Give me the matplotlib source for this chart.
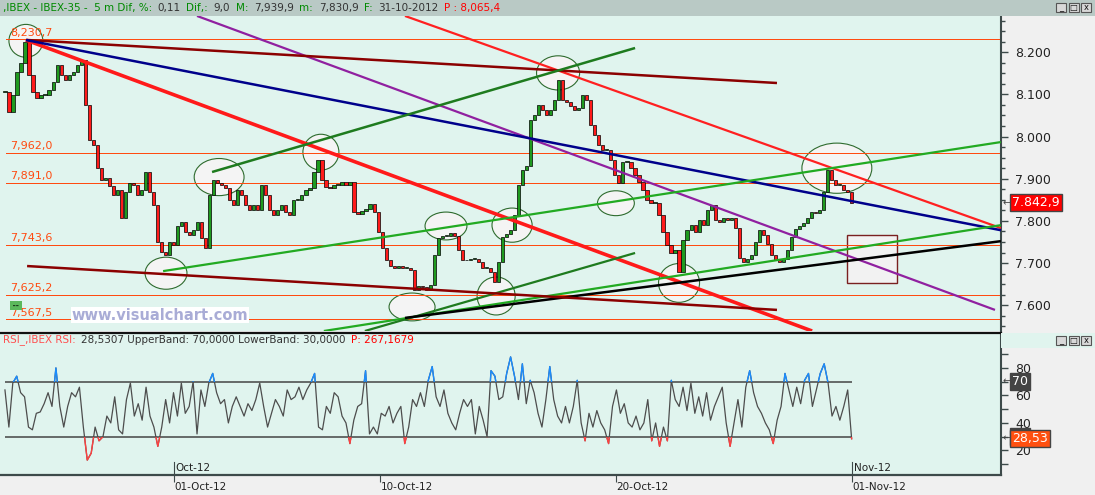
import matplotlib

matplotlib.use("Agg")

import matplotlib.pyplot as plt
import numpy as np
from matplotlib.patches import Ellipse, Rectangle
from matplotlib.ticker import MultipleLocator
from matplotlib.transforms import blended_transform_factory
from matplotlib.offsetbox import TextArea, HPacker, AnchoredOffsetbox

# ---- datos (IBEX-35, 5 min) -------------------------------------------
# tiempo en dias de mercado respecto al 01-Oct-12
t_start, t_end = -5.73, 22.97

closes = [
    8106, 8058, 8099, 8153, 8174, 8224, 8146, 8106, 8092, 8099,
    8099, 8110, 8129, 8170, 8146, 8134, 8146, 8153, 8170, 8182,
    8075, 7992, 7980, 7926, 7897, 7902, 7883, 7862, 7873, 7807,
    7869, 7890, 7885, 7862, 7873, 7916, 7869, 7838, 7750, 7726,
    7719, 7750, 7743, 7788, 7798, 7774, 7767, 7779, 7798, 7760,
    7736, 7862, 7897, 7890, 7885, 7878, 7850, 7838, 7873, 7862,
    7838, 7826, 7838, 7826, 7885, 7862, 7826, 7814, 7826, 7838,
    7821, 7814, 7850, 7850, 7862, 7873, 7878, 7916, 7945, 7897,
    7880, 7878, 7885, 7885, 7892, 7885, 7892, 7821, 7817, 7824,
    7828, 7840, 7821, 7774, 7736, 7707, 7693, 7689, 7693, 7689,
    7689, 7684, 7636, 7646, 7643, 7636, 7648, 7719, 7760, 7764,
    7764, 7771, 7764, 7731, 7707, 7707, 7710, 7710, 7703, 7689,
    7689, 7679, 7655, 7703, 7762, 7769, 7779, 7814, 7885, 7921,
    7930, 8039, 8051, 8075, 8063, 8051, 8063, 8087, 8134, 8087,
    8082, 8073, 8063, 8068, 8099, 8087, 8027, 8004, 7980, 7968,
    7968, 7945, 7909, 7890, 7940, 7940, 7926, 7909, 7892, 7873,
    7850, 7843, 7843, 7814, 7774, 7743, 7724, 7731, 7679, 7755,
    7779, 7790, 7774, 7802, 7790, 7826, 7838, 7802, 7798, 7807,
    7802, 7807, 7783, 7712, 7703, 7710, 7719, 7750, 7779, 7767,
    7745, 7719, 7707, 7703, 7710, 7731, 7762, 7781, 7788, 7795,
    7807, 7821, 7819, 7826, 7869, 7921, 7897, 7885, 7885, 7873,
    7869, 7842.9,
]

rsi = [
    64, 37, 69, 74, 62, 59, 37, 35, 47, 48, 54, 62, 52, 80, 52, 37, 52, 62,
    59, 66, 37, 13, 18, 37, 27, 30, 45, 40, 59, 35, 32, 57, 69, 45, 54, 42,
    66, 45, 37, 23, 37, 57, 40, 62, 45, 69, 47, 52, 70, 32, 64, 52, 69, 76,
    62, 54, 57, 40, 52, 59, 52, 45, 54, 49, 57, 69, 52, 37, 47, 57, 52, 45,
    64, 57, 59, 66, 57, 64, 69, 76, 37, 35, 52, 47, 62, 59, 45, 40, 25, 42,
    52, 54, 78, 32, 37, 32, 47, 45, 52, 40, 47, 52, 25, 37, 57, 52, 62,
    52, 71, 81, 59, 52, 64, 47, 40, 35, 47, 57, 52, 57, 32, 52, 42, 30, 78,
    74, 57, 59, 76, 88, 74, 57, 83, 54, 71, 62, 47, 37, 57, 81, 57, 45, 40,
    52, 40, 52, 71, 40, 27, 47, 37, 49, 40, 35, 25, 52, 64, 47, 54, 40, 37,
    45, 35, 40, 57, 27, 40, 23, 37, 27, 71, 57, 52, 66, 49, 69, 47, 59, 45,
    62, 42, 52, 59, 66, 40, 23, 40, 57, 37, 66, 78, 62, 52, 47, 40, 35, 25,
    42, 52, 76, 64, 52, 66, 54, 71, 76, 52, 64, 76, 83, 69, 45, 52, 42, 52,
    64, 28.53,
]

levels = [8230.7, 7962.0, 7891.0, 7743.6, 7625.2, 7567.5]

# lineas de tendencia: (t0, p0, t1, p1)
trend_lines = [
    (-5.02, 8229, 21.63, 7539),   # roja gruesa
    (7.83, 8286, 28.03, 7783),    # roja superior
    (0.78, 8286, 27.83, 7589),    # violeta
    (-4.98, 8229, 20.44, 8127),   # granate superior
    (-5.02, 8229, 28.03, 7778),   # azul
    (1.29, 7916, 15.63, 8210),    # verde oscuro sup.
    (-0.37, 7681, 28.03, 7987),   # verde medio
    (5.08, 7539, 28.03, 7790),    # verde inferior
    (6.47, 7539, 15.63, 7724),    # verde oscuro inf.
    (7.83, 7570, 28.03, 7752),    # negra
    (-4.98, 7693, 20.44, 7589),   # granate inferior
]
line_colors = ["#ff1a1a", "#ff2020", "#9020a0", "#8b0000", "#00008b",
               "#1e7b1e", "#22aa22", "#22aa22", "#1e7b1e", "#000000", "#8b0000"]
line_widths = [2.6, 1.6, 1.6, 1.8, 1.8, 1.8, 1.6, 1.6, 1.6, 1.8, 1.8]

# zonas marcadas: (t, precio, ancho_dias, alto_puntos)
ellipses = [
    (-5.02, 8227, 1.15, 78), (1.53, 7904, 1.69, 88), (4.98, 7963, 1.22, 85),
    (-0.27, 7676, 1.42, 76), (8.07, 7596, 1.56, 66), (9.22, 7788, 1.42, 66),
    (11.46, 7790, 1.36, 81), (10.92, 7622, 1.29, 90), (13.02, 8151, 1.46, 81),
    (14.98, 7842, 1.25, 59), (17.12, 7653, 1.39, 92), (22.47, 7925, 2.37, 119),
]
box_zone = (22.81, 7653, 24.51, 7767)

day_ticks = [0, 7, 15, 23]
day_labels = ["01-Oct-12", "10-Oct-12", "20-Oct-12", "01-Nov-12"]
month_ticks = [0, 23]
month_labels = ["Oct-12", "Nov-12"]

# ---- figura ------------------------------------------------------------
W, H = 1095, 495
fig = plt.figure(figsize=(W / 100, H / 100), dpi=100)
fig.patch.set_facecolor("#f0f0f0")
BG = "#e0f4ee"
AXC = "#3d4a4a"


def fy(py):
    return 1 - py / H


xlim = (-5.898, 28.034)
ax = fig.add_axes([0, fy(331), 1001 / W, (331 - 16) / H])
ax.set_facecolor(BG)
ax.set_xlim(*xlim)
ax.set_ylim(7539.0, 8285.9)

axr = fig.add_axes([0, fy(475), 1001 / W, (475 - 333) / H])
axr.set_facecolor(BG)
axr.set_xlim(*xlim)
axr.set_ylim(2.15, 105.4)

# franjas de fondo
fig.add_artist(Rectangle((0, fy(16)), 1, 16 / H, transform=fig.transFigure,
                         fc="#b9c9c5", ec="none", zorder=0.5))
fig.add_artist(Rectangle((1001 / W, fy(348)), 1 - 1001 / W, 15 / H,
                         transform=fig.transFigure, fc=BG, ec="none", zorder=1))

# ---- velas -------------------------------------------------------------
c = np.array(closes, dtype=float)
o = np.concatenate([[c[0]], c[:-1]])
x = np.linspace(t_start, t_end, len(c))
step = x[1] - x[0]
up = c >= o
ax.bar(x[up], np.maximum(c - o, 1.5)[up], bottom=o[up], width=step * 0.8,
       color="#1f9a1f", edgecolor="black", linewidth=0.5, zorder=3)
ax.bar(x[~up], (c - o)[~up], bottom=o[~up], width=step * 0.8,
       color="#ff1a1a", edgecolor="black", linewidth=0.5, zorder=3)

# ---- niveles horizontales ---------------------------------------------
bl = blended_transform_factory(ax.transAxes, ax.transData)
for lv in levels:
    ax.axhline(lv, xmin=6 / 1001, color="#ff4a10", lw=0.7, zorder=2,
               antialiased=False)
    lab = f"{lv:,.1f}".replace(".", ",")
    ax.text(10 / 1001, lv + 3, lab, transform=bl, color="#ff4a10",
            fontsize=8, va="bottom", ha="left", zorder=2)

# ---- elipses y rectangulo ---------------------------------------------
for (t, p, w, h) in ellipses:
    ax.add_patch(Ellipse((t, p), w, h, fc="#f4f4f4", ec="#2e6b2e",
                         lw=0.8, zorder=1.5))
bx0, by0, bx1, by1 = box_zone
ax.add_patch(Rectangle((bx0, by0), bx1 - bx0, by1 - by0, fc="#f2f2f2",
                       ec="#7a2020", lw=1.0, zorder=1.5))

# ---- lineas de tendencia ----------------------------------------------
for (t0, p0, t1, p1), col, lw in zip(trend_lines, line_colors, line_widths):
    ax.plot([t0, t1], [p0, p1], color=col, lw=lw, zorder=4,
            solid_capstyle="butt")

# ---- eje de precios ----------------------------------------------------
for s in ["top", "left", "bottom"]:
    ax.spines[s].set_visible(False)
ax.spines["right"].set_color(AXC)
ax.spines["right"].set_linewidth(1.5)
ax.yaxis.tick_right()
ax.set_yticks(range(7600, 8201, 100))
ax.set_yticklabels([f"{v:,}".replace(",", ".") for v in range(7600, 8201, 100)])
ax.yaxis.set_minor_locator(MultipleLocator(25))
ax.tick_params(axis="y", which="major", direction="out", length=5, width=1,
               color=AXC, labelsize=9, pad=5, labelcolor="#222222")
ax.tick_params(axis="y", which="minor", direction="out", length=3, width=1,
               color=AXC)
ax.set_xticks([])

last = closes[-1]
ax.text(1.011, last, f"{last:,.1f}".replace(",", "X").replace(".", ",")
        .replace("X", "."), transform=bl, color="white", fontsize=9,
        va="center", ha="left", clip_on=False, zorder=6,
        bbox=dict(boxstyle="square,pad=0.15", fc="#ff0000", ec="#444444",
                  lw=1))
ax.text(1.002, last, "\u2190", transform=bl, color="#444444", fontsize=7,
        va="center", ha="left", clip_on=False)

fig.text(160 / W, fy(315), "www.visualchart.com", color="#a9acd6",
         fontsize=10.5, fontweight="bold", ha="center", va="center",
         bbox=dict(boxstyle="square,pad=0.05", fc="white", ec="none"))
fig.text(16 / W, fy(305.5), " -- ", color="#1a3a1a", fontsize=5.5,
         ha="center", va="center", fontweight="bold",
         bbox=dict(boxstyle="square,pad=0.05", fc="#5cb85c", ec="none"))

# ---- RSI ----------------------------------------------------------------
xr = np.linspace(t_start, t_end, len(rsi))
axr.hlines([70, 30], t_start, t_end, color="#444444", lw=1.1, zorder=2)
axr.plot(xr, rsi, color="#4d4d4d", lw=0.9, zorder=3)
hi = axr.plot(xr, rsi, color="#1a8cff", lw=1.0, zorder=4)[0]
hi.set_clip_path(Rectangle((xlim[0], 70), xlim[1] - xlim[0], 50,
                           transform=axr.transData))
lo = axr.plot(xr, rsi, color="#ff4040", lw=1.0, zorder=4)[0]
lo.set_clip_path(Rectangle((xlim[0], -10), xlim[1] - xlim[0], 40,
                           transform=axr.transData))

axr.spines["left"].set_visible(False)
axr.spines["top"].set_color("#111111")
axr.spines["top"].set_linewidth(1.6)
axr.spines["right"].set_color(AXC)
axr.spines["right"].set_linewidth(1.5)
axr.spines["bottom"].set_color(AXC)
axr.spines["bottom"].set_linewidth(1.6)
axr.yaxis.tick_right()
axr.set_yticks([20, 40, 60, 80])
axr.yaxis.set_minor_locator(MultipleLocator(10))
axr.tick_params(axis="y", which="major", direction="out", length=5, width=1,
                color=AXC, labelsize=9, pad=5, labelcolor="#222222")
axr.tick_params(axis="y", which="minor", direction="out", length=5, width=1,
                color=AXC)
axr.set_xticks(day_ticks)
axr.set_xticklabels(day_labels)
axr.tick_params(axis="x", direction="out", length=5, width=0.8, color=AXC,
                labelsize=7.5, pad=0, labelcolor="#222222")
for lab in axr.get_xticklabels():
    lab.set_ha("left")
blr = blended_transform_factory(axr.transData, axr.transAxes)
for t, lab in zip(month_ticks, month_labels):
    axr.plot([t, t], [0, 0.09], transform=blr, color=AXC, lw=0.8)
    axr.text(t + 0.05, 0.015, lab, transform=blr, fontsize=7.5,
             color="#222222", ha="left", va="bottom")

blr2 = blended_transform_factory(axr.transAxes, axr.transData)
axr.text(1.011, 30, "30", transform=blr2, color="white", fontsize=9,
         va="center", ha="left", clip_on=False,
         bbox=dict(boxstyle="square,pad=0.15", fc="#444444", ec="#444444"))
axr.text(1.011, 70, "70", transform=blr2, color="white", fontsize=9,
         va="center", ha="left", clip_on=False,
         bbox=dict(boxstyle="square,pad=0.15", fc="#444444", ec="#444444"))
axr.text(1.011, rsi[-1], f"{rsi[-1]:.2f}".replace(".", ","), transform=blr2,
         color="white", fontsize=9, va="center", ha="left", clip_on=False,
         bbox=dict(boxstyle="square,pad=0.15", fc="#ff5010", ec="#444444"))
for v in (70, rsi[-1]):
    axr.text(1.002, v, "\u2190", transform=blr2, color="#444444", fontsize=7,
             va="center", ha="left", clip_on=False)


# ---- textos de cabecera -------------------------------------------------
def header(pieces, x_px, y_px, size):
    kids = [TextArea(t, textprops=dict(color=col, fontsize=size))
            for t, col in pieces]
    pack = HPacker(children=kids, align="baseline", pad=0, sep=4)
    box = AnchoredOffsetbox(loc="center left", child=pack, frameon=False,
                            pad=0, borderpad=0,
                            bbox_to_anchor=(x_px / W, fy(y_px)),
                            bbox_transform=fig.transFigure)
    fig.add_artist(box)


G, D, R = "#008a00", "#333333", "#ff0000"
header([(",IBEX - IBEX-35 -  5 m Dif, %:", G), ("0,11", D), ("Dif,:", G),
        ("9,0", D), ("M:", G), ("7,939,9", D), ("m:", G), ("7,830,9", D),
        ("F:", G), ("31-10-2012", D), ("P : 8,065,4", R)], 3, 8, 7.5)
header([("RSI_,IBEX RSI:", "#ff5050"),
        ("28,5307 UpperBand: 70,0000 LowerBand: 30,0000", D),
        ("P: 267,1679", R)], 3, 340, 7.5)

# botones de ventana
for yb in (3, 336):
    for i, sym in enumerate(["_", "\u25a1", "x"]):
        xb = 1056 + i * 12.5
        fig.add_artist(Rectangle((xb / W, fy(yb + 9)), 10 / W, 9 / H,
                                 transform=fig.transFigure, fc="#d8d8d8",
                                 ec="#555555", lw=0.8, zorder=5))
        fig.text((xb + 5) / W, fy(yb + 4.5), sym, fontsize=6, ha="center",
                 va="center", color="#111111", zorder=6)

fig.savefig("out.png", dpi=100, facecolor=fig.get_facecolor())
